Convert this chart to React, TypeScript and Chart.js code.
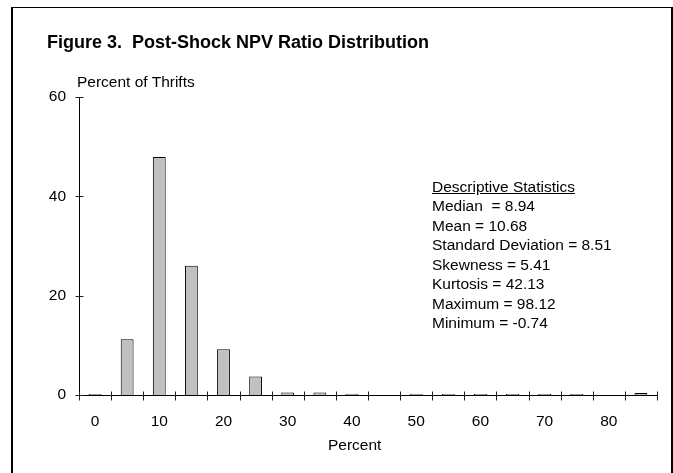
import React, { useEffect, useRef } from "react";
import { Chart, registerables } from "chart.js";

Chart.register(...registerables);

// ---- data ----
const binLabels = ["0", "5", "10", "15", "20", "25", "30", "35", "40", "45", "50", "55", "60", "65", "70", "75", "80", "85"];
const percentOfThrifts = [0.2, 11.2, 47.9, 26.0, 9.2, 3.7, 0.5, 0.5, 0.2, 0, 0.2, 0.2, 0.2, 0.2, 0.2, 0.2, 0, 0.4];
const xTickLabels = ["0", "10", "20", "30", "40", "50", "60", "70", "80"];
const yTickValues = [0, 20, 40, 60];
const titleText = "Figure 3.  Post-Shock NPV Ratio Distribution";
const yAxisTitle = "Percent of Thrifts";
const xAxisTitle = "Percent";
const statsHeading = "Descriptive Statistics";
const statsLines = [
  "Median  = 8.94",
  "Mean = 10.68",
  "Standard Deviation = 8.51",
  "Skewness = 5.41",
  "Kurtosis = 42.13",
  "Maximum = 98.12",
  "Minimum = -0.74",
];

const FONT = '"Liberation Sans", Arial, Helvetica, sans-serif';

const crossTicks = {
  id: "crossTicks",
  afterDraw(chart: any) {
    const { ctx } = chart;
    const x = chart.scales.x;
    const y = chart.scales.y;
    ctx.save();
    ctx.strokeStyle = "#222";
    ctx.lineWidth = 1;
    const n = binLabels.length;
    const half = (x.getPixelForValue(1) - x.getPixelForValue(0)) / 2;
    const axisY = Math.round(y.getPixelForValue(yTickValues[0])) + 0.5;
    for (let i = 0; i <= n; i++) {
      const px = i < n ? x.getPixelForValue(i) - half : x.getPixelForValue(n - 1) + half;
      const ax = Math.round(px) + 0.5;
      ctx.beginPath();
      ctx.moveTo(ax, axisY - 4);
      ctx.lineTo(ax, axisY + 5);
      ctx.stroke();
    }
    const axisX = Math.round(x.left) + 0.5;
    for (const v of yTickValues) {
      const py = Math.round(y.getPixelForValue(v)) + 0.5;
      ctx.beginPath();
      ctx.moveTo(axisX - 4, py);
      ctx.lineTo(axisX + 4, py);
      ctx.stroke();
    }
    ctx.restore();
  },
};

function ChartCanvas() {
  const ref = useRef<HTMLCanvasElement | null>(null);
  useEffect(() => {
    if (!ref.current) return;
    const chart = new Chart(ref.current, {
      type: "bar",
      data: {
        labels: binLabels,
        datasets: [
          {
            data: percentOfThrifts,
            backgroundColor: "#c0c0c0",
            borderColor: "#000",
            borderWidth: 1,
            barPercentage: 0.4,
            categoryPercentage: 1,
          },
        ],
      },
      options: {
        responsive: false,
        animation: false,
        devicePixelRatio: 1,
        layout: { padding: { left: 0, right: 16, top: 97, bottom: 0 } },
        plugins: { legend: { display: false }, tooltip: { enabled: false }, title: { display: false } },
        scales: {
          x: {
            type: "category",
            offset: true,
            grid: { display: false, drawTicks: false },
            border: { display: true, color: "#000", width: 1 },
            ticks: {
              autoSkip: false,
              maxRotation: 0,
              padding: 17,
              color: "#000",
              font: { family: FONT, size: 15.5 },
              callback: function (this: any, value: any) {
                const lab = this.getLabelForValue(value);
                return xTickLabels.includes(lab) ? lab : "";
              },
            },
            afterFit(scale: any) {
              scale.height = 78;
            },
          },
          y: {
            min: yTickValues[0],
            max: yTickValues[yTickValues.length - 1],
            grid: { display: false, drawTicks: false },
            border: { display: true, color: "#000", width: 1 },
            ticks: {
              stepSize: 20,
              padding: 13,
              color: "#000",
              font: { family: FONT, size: 15.5 },
            },
            afterFit(scale: any) {
              scale.width = 79;
            },
          },
        },
      },
      plugins: [crossTicks],
    });
    return () => chart.destroy();
  }, []);
  return <canvas ref={ref} width={673} height={473} style={{ position: "absolute", left: 0, top: 0, width: 673, height: 473 }} />;
}

export default function App() {
  const fs = 15.5;
  const base = (baseline: number, size: number) => baseline - 0.8465 * size;
  return (
    <div style={{ position: "absolute", left: 0, top: 0, width: 673, height: 473, overflow: "hidden", background: "#fff", fontFamily: FONT, color: "#000" }}>
      <div
        style={{
          position: "absolute",
          left: 11,
          top: 7,
          width: 658,
          height: 500,
          borderTop: "1px solid #000",
          borderLeft: "2px solid #000",
          borderRight: "2px solid #000",
        }}
      />
      <ChartCanvas />
      <div style={{ position: "absolute", left: 47, top: base(48, 18), fontSize: 18, fontWeight: "bold", lineHeight: 1, whiteSpace: "pre" }}>{titleText}</div>
      <div style={{ position: "absolute", left: 77, top: base(87.5, fs), fontSize: fs, lineHeight: 1, whiteSpace: "pre" }}>{yAxisTitle}</div>
      <div style={{ position: "absolute", left: 328, top: base(450, fs), fontSize: fs, lineHeight: 1, whiteSpace: "pre" }}>{xAxisTitle}</div>
      <div style={{ position: "absolute", left: 432, top: 192 - 15.1, fontSize: fs, lineHeight: "19.5px", whiteSpace: "pre" }}>
        <div style={{ textDecoration: "underline" }}>{statsHeading}</div>
        {statsLines.map((s) => (
          <div key={s}>{s}</div>
        ))}
      </div>
    </div>
  );
}
